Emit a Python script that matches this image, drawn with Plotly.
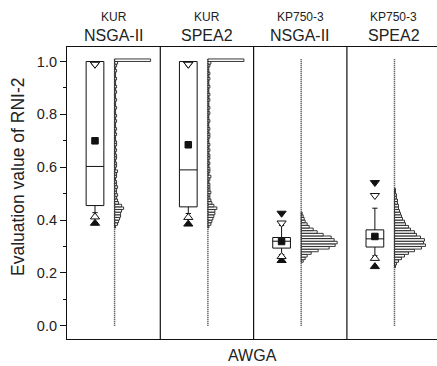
import plotly.graph_objects as go

# ---------------- data ----------------
panels_small = ["KUR", "KUR", "KP750-3", "KP750-3"]
panels_big = ["NSGA-II", "SPEA2", "NSGA-II", "SPEA2"]

# box statistics per panel
q1 = [0.455, 0.450, 0.294, 0.298]
median = [0.603, 0.590, 0.320, 0.329]
q3 = [1.000, 1.000, 0.334, 0.363]
lower_whisker = [0.428, 0.425, 0.270, 0.265]
upper_whisker = [1.000, 1.000, 0.380, 0.445]
mean = [0.700, 0.685, 0.319, 0.338]
p1 = [0.412, 0.410, 0.262, 0.255]
p99 = [0.990, 0.990, 0.389, 0.493]
minimum = [0.388, 0.385, 0.247, 0.224]
maximum = [0.990, 0.990, 0.426, 0.542]

# histogram (bin width 0.01); first bin lower edge and counts
hist_start = [0.37, 0.37, 0.24, 0.22]
hist_counts = [
    [1, 3, 4, 5, 6, 6, 7, 9, 7, 4,
     3, 2, 3, 2, 2, 3, 2, 2, 1, 2, 2, 3, 1, 2, 2, 1, 2, 2, 1, 2,
     1, 2, 2, 1, 1, 2, 1, 2, 1, 1, 2, 1, 2, 1, 1, 2, 1, 1, 2, 1,
     1, 2, 1, 2, 1, 1, 2, 1, 1, 2, 1, 2, 3, 36],
    [1, 3, 4, 5, 6, 7, 7, 9, 6, 4,
     3, 2, 2, 3, 2, 2, 2, 1, 2, 3, 1, 2, 2, 1, 2, 1, 2, 2, 1, 2,
     1, 2, 1, 1, 2, 2, 1, 2, 1, 1, 2, 1, 1, 2, 1, 2, 1, 1, 2, 1,
     2, 1, 1, 2, 1, 1, 2, 1, 2, 1, 1, 2, 3, 36],
    [2, 4, 6, 10, 17, 28, 34, 36, 33, 30, 22, 16, 12, 8, 6, 4, 3, 2, 1],
    [1, 2, 4, 7, 10, 14, 20, 27, 31, 29, 30, 26, 22, 20, 16, 14, 11, 10,
     8, 7, 6, 5, 4, 4, 3, 3, 2, 2, 1, 1],
]
bin_width = 0.01
baseline_top = 1.01

# ---------------- layout constants ----------------
W, H = 437, 366
ML, MT, MB = 67, 47, 27
panel_px = 93.3
plot_w = W - ML
plot_h = H - MT - MB
x_range = [-0.5, -0.5 + plot_w / panel_px]
box_offset = -0.2
hist_offset = 0.01
count_scale = 1.0 / panel_px  # one count = one pixel
FONT = "Liberation Sans, Arial, sans-serif"
TXT = "#222222"

fig = go.Figure()

n = len(panels_big)
box_x = [i + box_offset for i in range(n)]
hist_x = [i + hist_offset for i in range(n)]

# histograms
for i in range(n):
    counts = hist_counts[i]
    centers = [hist_start[i] + bin_width * (k + 0.5) for k in range(len(counts))]
    fig.add_trace(go.Bar(
        orientation="h", y=centers, x=[c * count_scale for c in counts],
        base=hist_x[i], width=bin_width * 0.95,
        marker=dict(color="white", line=dict(color="#222222", width=0.9)),
        showlegend=False, hoverinfo="skip"))
    fig.add_trace(go.Scatter(
        x=[hist_x[i], hist_x[i]], y=[0.0, baseline_top], mode="lines",
        line=dict(color="#333333", width=1.5, dash="1px,1px"),
        showlegend=False, hoverinfo="skip"))

# boxes
fig.add_trace(go.Box(
    x=box_x, q1=q1, median=median, q3=q3,
    lowerfence=lower_whisker, upperfence=upper_whisker,
    width=0.19, whiskerwidth=0.3, fillcolor="white",
    line=dict(color="#111111", width=1), boxpoints=False,
    showlegend=False, hoverinfo="skip"))

# markers
def mk(y, symbol, size, fill):
    fig.add_trace(go.Scatter(
        x=box_x, y=y, mode="markers",
        marker=dict(symbol=symbol, size=size, color=fill,
                    line=dict(color="#111111", width=1)),
        showlegend=False, hoverinfo="skip"))

mk(maximum, "triangle-down", 8, "#111111")
mk(minimum, "triangle-up", 8, "#111111")
mk(p99, "triangle-down", 8, "white")
mk(p1, "triangle-up", 8, "white")
mk(mean, "square", 6.5, "#111111")

# panel dividers
for i in range(n - 1):
    fig.add_shape(type="line", xref="x", yref="paper", x0=i + 0.5, x1=i + 0.5,
                  y0=0, y1=1, line=dict(color="#111111", width=1.2))

# panel headers
for i in range(n):
    fig.add_annotation(x=i, y=1 + (MT - 17) / plot_h, xref="x", yref="paper",
                       xanchor="center", yanchor="middle",
                       text=panels_small[i], showarrow=False,
                       font=dict(family=FONT, size=12, color=TXT))
    fig.add_annotation(x=i, y=1 + (MT - 36) / plot_h, xref="x", yref="paper",
                       xanchor="center", yanchor="middle",
                       text=panels_big[i], showarrow=False,
                       font=dict(family=FONT, size=16, color=TXT))

# axis titles
fig.add_annotation(x=0.5, y=-(356 - (H - MB)) / plot_h, xref="paper", yref="paper",
                   xanchor="center", yanchor="middle",
                   text="AWGA", showarrow=False,
                   font=dict(family=FONT, size=16, color=TXT))
fig.add_annotation(x=-(ML - 18) / plot_w, y=1 - (177 - MT) / plot_h, xref="paper",
                   yref="paper", xanchor="center", yanchor="middle",
                   text="Evaluation value of RNI-2", textangle=-90,
                   showarrow=False, font=dict(family=FONT, size=17.5, color=TXT))

fig.update_layout(
    width=W, height=H,
    margin=dict(l=ML, r=0, t=MT, b=MB, pad=0, autoexpand=False),
    plot_bgcolor="white", paper_bgcolor="white",
    barmode="overlay", showlegend=False,
    font=dict(family=FONT, color=TXT),
)
fig.update_xaxes(range=x_range, showticklabels=False, ticks="", showgrid=False,
                 zeroline=False, showline=True, mirror=True, linecolor="#111111",
                 linewidth=1.2, automargin=False)
fig.update_yaxes(range=[-0.05, 1.055], tickvals=[0, 0.2, 0.4, 0.6, 0.8, 1.0],
                 tickformat=".1f", ticks="outside", ticklen=6, tickcolor="#111111",
                 minor=dict(dtick=0.1, ticks="outside", ticklen=3, tickcolor="#111111"),
                 showgrid=False, zeroline=False, showline=True, linecolor="#111111",
                 linewidth=1.2, automargin=False,
                 tickfont=dict(family=FONT, size=14.5, color=TXT))

fig.write_html("out.html", config={"displayModeBar": False},
               post_script="document.body.style.margin='0';document.body.style.padding='0';")
